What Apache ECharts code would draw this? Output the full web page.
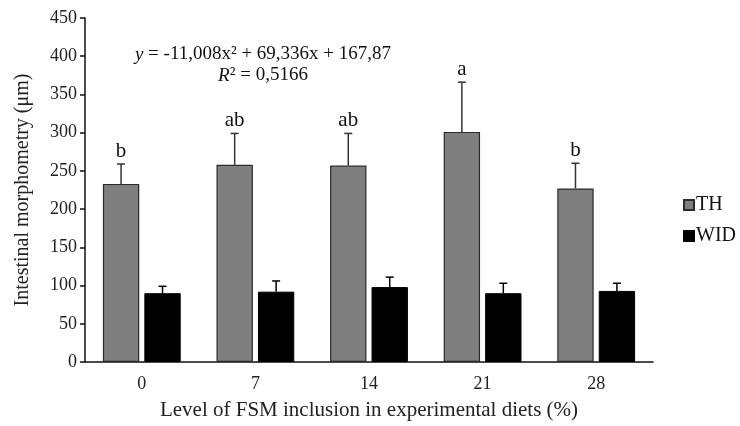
<!DOCTYPE html>
<html>
<head>
<meta charset="utf-8">
<script src="https://cdn.jsdelivr.net/npm/echarts@6/dist/echarts.min.js"></script>
<style>html,body{margin:0;padding:0;background:#fff}#c{width:740px;height:426px}</style>
</head>
<body>
<div id="c"></div>
<script>
const categories = ['0', '7', '14', '21', '28'];
const thValues = [233, 258, 257, 301, 227];
const thErrors = [26, 41, 42, 65, 33];
const thLetters = ['b', 'ab', 'ab', 'a', 'b'];
const widValues = [90, 92, 98, 90, 93];
const widErrors = [9, 14, 13, 13, 10];
const yTicks = {min: 0, max: 450, interval: 50};

const FONT = '"Liberation Serif", "DejaVu Serif", serif';
const BAR_W = 0.32, GAP = 0.14;

function errSeries(values, errors, letters, side, color) {
  return {
    type: 'custom',
    silent: true,
    z: 5,
    data: values.map((v, i) => [i, v, errors[i]]),
    encode: {x: 0, y: 1},
    renderItem: function (params, api) {
      const idx = api.value(0), v = api.value(1), e = api.value(2);
      const base = api.coord([idx, v]);
      const top = api.coord([idx, v + e]);
      const cw = api.size([1, 0])[0];
      const bw = cw * BAR_W, gap = bw * GAP;
      const x = base[0] + side * (bw + gap) / 2;
      const children = [
        {type: 'line', shape: {x1: x, y1: base[1], x2: x, y2: top[1]}, style: {stroke: color, lineWidth: 1.5}},
        {type: 'line', shape: {x1: x - 4, y1: top[1], x2: x + 4, y2: top[1]}, style: {stroke: color, lineWidth: 1.5}}
      ];
      if (letters) {
        children.push({type: 'text', style: {text: letters[params.dataIndex], x: x, y: top[1] - 2,
          align: 'center', verticalAlign: 'bottom', fontSize: 21, fontFamily: FONT, fill: '#111'}});
      }
      return {type: 'group', children: children};
    }
  };
}

const chart = echarts.init(document.getElementById('c'));
chart.setOption({
  animation: false,
  backgroundColor: '#fff',
  grid: {left: 85, right: 87, top: 18, bottom: 64},
  legend: {
    orient: 'vertical', left: 678, top: 190, itemWidth: 10, itemHeight: 10, itemGap: 11,
    icon: 'rect',
    textStyle: {fontFamily: FONT, fontSize: 20, color: '#111', padding: [0, 0, 0, -3]},
    data: ['TH', 'WID']
  },
  xAxis: {
    type: 'category', data: categories,
    axisLine: {lineStyle: {color: '#111', width: 1.5}},
    axisTick: {length: 5, lineStyle: {color: '#111', width: 1.5}},
    axisLabel: {fontFamily: FONT, fontSize: 18, color: '#222', margin: 13},
    name: 'Level of FSM inclusion in experimental diets (%)',
    nameLocation: 'middle', nameGap: 38,
    nameTextStyle: {fontFamily: FONT, fontSize: 21, color: '#222'}
  },
  yAxis: {
    type: 'value', min: yTicks.min, max: yTicks.max, interval: yTicks.interval,
    axisLine: {show: true, lineStyle: {color: '#111', width: 1.5}},
    axisTick: {show: true, length: 5, lineStyle: {color: '#111', width: 1.5}},
    splitLine: {show: false},
    axisLabel: {fontFamily: FONT, fontSize: 18, color: '#222', margin: 8},
    name: 'Intestinal morphometry (μm)',
    nameLocation: 'middle', nameGap: 52,
    nameTextStyle: {fontFamily: FONT, fontSize: 20, color: '#222'}
  },
  graphic: [{
    type: 'text', x: 263, y: 65, z: 10,
    style: {
      text: '{i|y} = -11,008x² + 69,336x + 167,87\n{i|R}² = 0,5166',
      align: 'center', verticalAlign: 'middle',
      fontSize: 19, fontFamily: FONT, fill: '#111', lineHeight: 21,
      rich: {i: {fontStyle: 'italic', fontSize: 19, fontFamily: FONT, fill: '#111'}}
    }
  }],
  series: [
    {name: 'TH', type: 'bar', data: thValues, barWidth: (BAR_W * 100) + '%', barGap: (GAP * 100) + '%',
      itemStyle: {color: '#7f7f7f', borderColor: '#2a2a2a', borderWidth: 1.2}},
    {name: 'WID', type: 'bar', data: widValues, barWidth: (BAR_W * 100) + '%',
      itemStyle: {color: '#000', borderColor: '#000', borderWidth: 1}},
    errSeries(thValues, thErrors, thLetters, -1, '#333'),
    errSeries(widValues, widErrors, null, 1, '#000')
  ]
});
</script>
</body>
</html>
